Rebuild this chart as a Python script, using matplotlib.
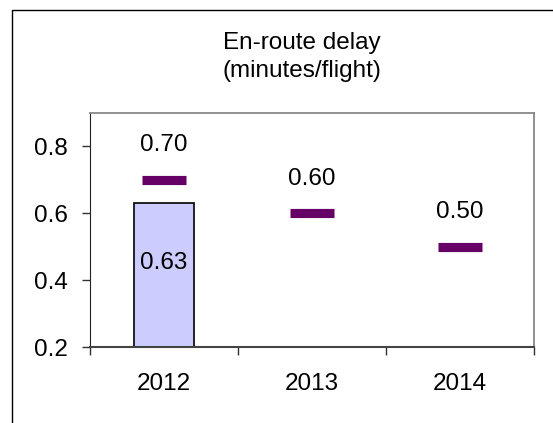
import matplotlib
matplotlib.use("Agg")
import matplotlib.pyplot as plt
from matplotlib.patches import Rectangle
from matplotlib.ticker import FixedLocator

plt.rcParams['font.family'] = ['Liberation Sans', 'DejaVu Sans']

years = ["2012", "2013", "2014"]
actual_values = [0.63]          # measured en-route delay (only 2012 available)
target_values = [0.70, 0.60, 0.50]
y_ticks = [0.2, 0.4, 0.6, 0.8]

W, H = 553, 423
DPI = 100
FS = 17.5

fig = plt.figure(figsize=(W / DPI, H / DPI), dpi=DPI)
fig.patch.set_facecolor("white")

# outer chart frame (runs off the right/bottom edge)
fig.patches.append(Rectangle((12 / W, -0.1), 1.2, (H - 10) / H + 0.1,
                             transform=fig.transFigure, fill=False,
                             edgecolor="black", linewidth=1.0, zorder=0))

ax = fig.add_axes([90 / W, (H - 347) / H, 444 / W, 234 / H])
x = list(range(len(years)))

# actual bar
ax.bar(x[:len(actual_values)], [v - 0.2 for v in actual_values], bottom=0.2,
       width=0.405, color="#CCCCFF", edgecolor="black", linewidth=1.2, zorder=2)
for xi, v in zip(x, actual_values):
    ax.text(xi, 0.2 + (v - 0.2) * 0.585, f"{v:.2f}", ha="center", va="center",
            fontsize=FS, zorder=4)

# targets
ax.hlines(target_values, [xi - 0.15 for xi in x], [xi + 0.15 for xi in x],
          colors="#660066", linewidth=6.6, zorder=3)
for xi, v in zip(x, target_values):
    ax.annotate(f"{v:.2f}", (xi, v), xytext=(0, 25), textcoords="offset points",
                ha="center", va="center", fontsize=FS, zorder=4)

ax.set_xlim(-0.5, len(years) - 0.5)
ax.set_ylim(0.2, 0.9)

ax.set_yticks(y_ticks)
ax.set_yticklabels([f"{t:.1f}" for t in y_ticks], fontsize=FS)
ax.tick_params(axis="y", direction="out", length=6, width=1, pad=10, color="#333333")

ax.set_xticks(x)
ax.set_xticklabels(years, fontsize=FS)
ax.tick_params(axis="x", which="major", length=0, pad=19)
ax.xaxis.set_minor_locator(FixedLocator([i - 0.5 for i in range(len(years) + 1)]))
ax.tick_params(axis="x", which="minor", direction="out", length=6, width=1, color="#333333")

ax.spines["left"].set_color("#222222")
ax.spines["bottom"].set_color("#444444")
ax.spines["bottom"].set_linewidth(1.5)
for s in ("top", "right"):
    ax.spines[s].set_color("#888888")
    ax.spines[s].set_linewidth(1.3)

fig.text(302 / W, 1 - 57 / H, "En-route delay\n(minutes/flight)", ha="center",
         va="center", fontsize=FS, linespacing=1.35)

fig.savefig("out.png", dpi=DPI)
